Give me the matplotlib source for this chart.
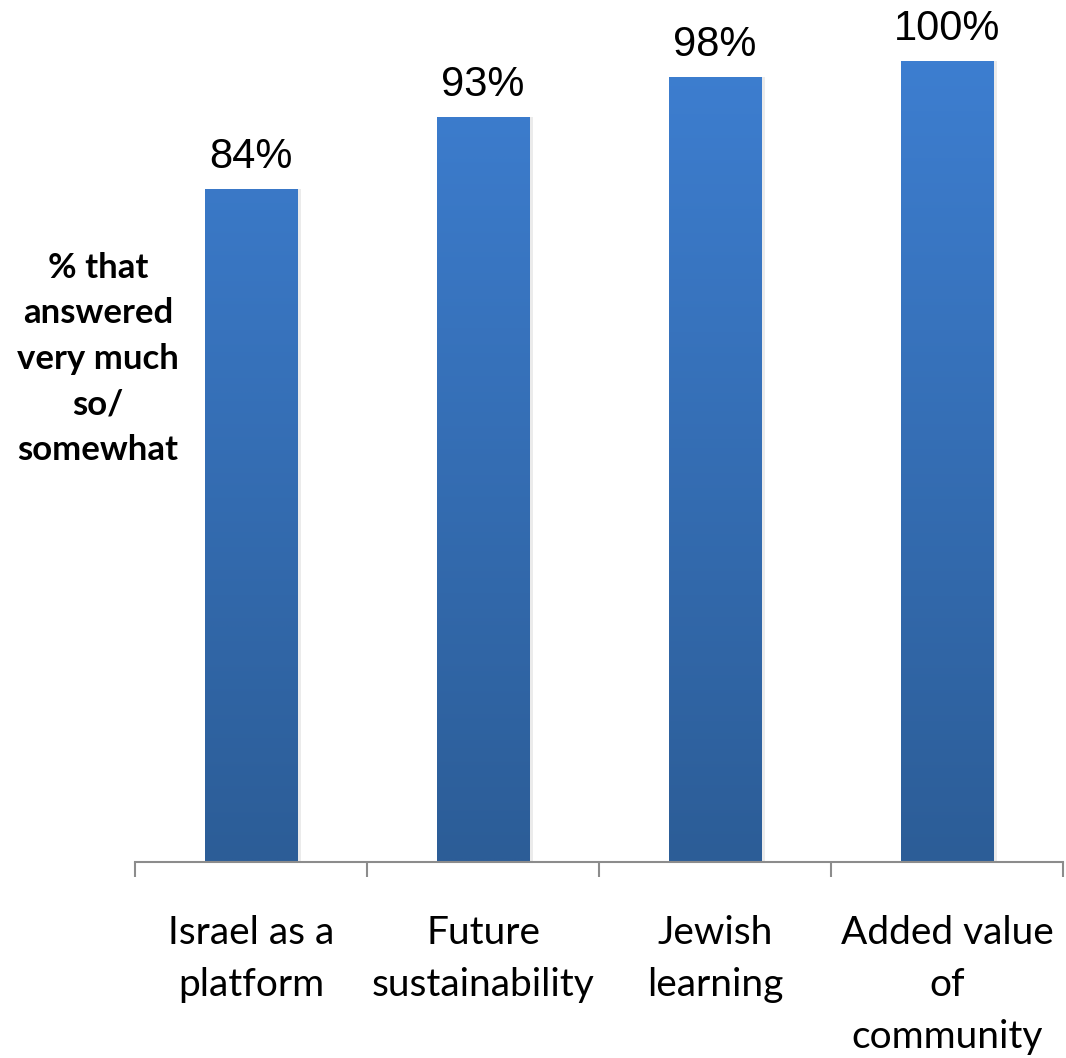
import numpy as np
from matplotlib import pyplot as plt
from matplotlib.colors import LinearSegmentedColormap

# Survey results
categories = ["Israel as a\nplatform", "Future\nsustainability", "Jewish\nlearning",
              "Added value\nof\ncommunity"]
values = [84, 93, 98, 100]
value_labels = ["84%", "93%", "98%", "100%"]
ylabel = "% that\nanswered\nvery much\nso/\nsomewhat"

fig = plt.figure(figsize=(10.66, 10.58), dpi=100)
ax = fig.add_axes([135 / 1066, 1 - 862 / 1058, 928 / 1066, 801 / 1058])

# vertical gradient for the bars: light blue at the top, darker at the bottom
grad = LinearSegmentedColormap.from_list("bar", ["#2c5d97", "#3d7ed0"])
ramp = np.linspace(0, 1, 256).reshape(-1, 1)
width = 0.4
for i, v in enumerate(values):
    # faint shadow behind the bar
    ax.bar(i + 0.01, v, width=width + 0.01, color="#000000", alpha=0.08, zorder=1)
    ax.imshow(ramp * v / 100, cmap=grad, vmin=0, vmax=1, origin="lower", aspect="auto",
              extent=(i - width / 2, i + width / 2, 0, v), zorder=2)
    ax.text(i, v + 1.5, value_labels[i], ha="center", va="bottom", fontsize=30,
            family="Liberation Sans")

ax.set_xlim(-0.5, 3.5)
ax.set_ylim(0, 100)
for s in ["top", "right", "left"]:
    ax.spines[s].set_visible(False)
ax.spines["bottom"].set_color("#8c8c8c")
ax.spines["bottom"].set_linewidth(1.5)
ax.set_yticks([])
ax.set_xticks([-0.5, 0.5, 1.5, 2.5, 3.5], minor=False)
ax.set_xticklabels([])
ax.tick_params(axis="x", direction="out", length=11, width=1.5, color="#8c8c8c")

for i, c in enumerate(categories):
    ax.text(i, -6.6, c, ha="center", va="top", fontsize=28, family="Lato",
            linespacing=1.55, transform=ax.transData)

fig.text(98 / 1066, 1 - 359 / 1058, ylabel, ha="center", va="center", fontsize=25,
         family="Lato", weight="bold", linespacing=1.52)

plt.savefig("out.png", dpi=100)
